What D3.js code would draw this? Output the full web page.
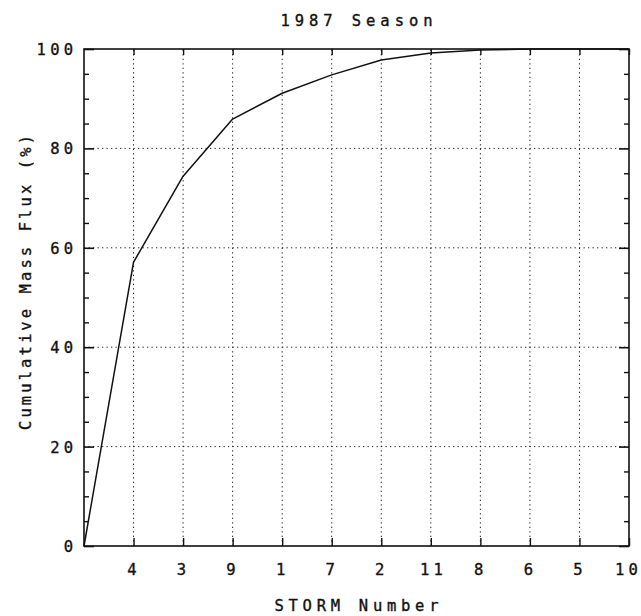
<!DOCTYPE html>
<html>
<head>
<meta charset="utf-8">
<script src="https://cdn.jsdelivr.net/npm/d3@7"></script>
<style>
  html, body { margin: 0; padding: 0; background: #fff; }
  svg { display: block; }
  text { font-family: "DejaVu Sans Mono", "Liberation Mono", monospace; fill: #111; stroke: #111; stroke-width: 0.35px; }
</style>
</head>
<body>
<svg id="chart" width="641" height="616"></svg>
<script>
// ---- data ----
const storms = ["", "4", "3", "9", "1", "7", "2", "11", "8", "6", "5", "10"];
const cumulative = [0, 57.1, 74.4, 85.9, 91.1, 94.8, 97.8, 99.2, 99.8, 100, 100, 100];
const yMajorTicks = [0, 20, 40, 60, 80, 100];
const yMinorTicks = [5, 10, 15, 25, 30, 35, 45, 50, 55, 65, 70, 75, 85, 90, 95];
const titleText = "1987 Season";
const xLabel = "STORM Number";
const yLabel = "Cumulative Mass Flux (%)";

// ---- layout ----
const L = 84, R = 629, T = 49, B = 546;
const svg = d3.select("#chart");
const x = d3.scaleLinear().domain([0, storms.length - 1]).range([L, R]);
const y = d3.scaleLinear().domain([0, 100]).range([B, T]);
const catIdx = d3.range(1, storms.length);
const fs = 15.5;
const ls = 4.2;

// gridlines (dotted)
const grid = svg.append("g").attr("stroke", "#222").attr("stroke-width", 1)
  .attr("stroke-dasharray", "1.3,3.2");
grid.selectAll("line.v").data(catIdx.slice(0, -1)).join("line")
  .attr("x1", d => x(d)).attr("x2", d => x(d)).attr("y1", B).attr("y2", T);
grid.selectAll("line.h").data(yMajorTicks.slice(1, -1)).join("line")
  .attr("class", "h")
  .attr("x1", L).attr("x2", R).attr("y1", d => y(d)).attr("y2", d => y(d));

// frame
svg.append("rect").attr("x", L).attr("y", T).attr("width", R - L).attr("height", B - T)
  .attr("fill", "none").attr("stroke", "#111").attr("stroke-width", 1.6);

// bottom axis (inward ticks)
const gx = svg.append("g").attr("transform", `translate(0,${B})`)
  .call(d3.axisBottom(x).tickValues(catIdx).tickSize(-8).tickFormat(i => storms[i]));
gx.select(".domain").remove();
gx.selectAll(".tick line").attr("stroke", "#111").attr("stroke-width", 1.4);
gx.selectAll(".tick text").attr("y", 29).attr("dy", 0)
  .attr("dx", i => storms[i].length > 1 ? (i === storms.length - 1 ? -1 : ls / 2) : 0)
  .attr("font-size", fs).style("letter-spacing", ls + "px");

// top axis (inward ticks, no labels)
const gxt = svg.append("g").attr("transform", `translate(0,${T})`)
  .call(d3.axisTop(x).tickValues(catIdx).tickSize(-6).tickFormat(""));
gxt.select(".domain").remove();
gxt.selectAll(".tick line").attr("stroke", "#111").attr("stroke-width", 1.4);

// left axis
const gy = svg.append("g").attr("transform", `translate(${L},0)`)
  .call(d3.axisLeft(y).tickValues(yMajorTicks).tickSize(-10).tickFormat(d3.format("d")));
gy.select(".domain").remove();
gy.selectAll(".tick line").attr("stroke", "#111").attr("stroke-width", 1.6);
gy.selectAll(".tick text").attr("x", -11 + ls).attr("dy", "0.36em")
  .attr("font-size", fs).style("letter-spacing", ls + "px");
const gym = svg.append("g").attr("transform", `translate(${L},0)`)
  .call(d3.axisLeft(y).tickValues(yMinorTicks).tickSize(-5).tickFormat(""));
gym.select(".domain").remove();
gym.selectAll(".tick line").attr("stroke", "#111").attr("stroke-width", 1.4);

// right axis
const gyr = svg.append("g").attr("transform", `translate(${R},0)`)
  .call(d3.axisRight(y).tickValues(yMajorTicks).tickSize(-10).tickFormat(""));
gyr.select(".domain").remove();
gyr.selectAll(".tick line").attr("stroke", "#111").attr("stroke-width", 1.6);
const gyrm = svg.append("g").attr("transform", `translate(${R},0)`)
  .call(d3.axisRight(y).tickValues(yMinorTicks).tickSize(-5).tickFormat(""));
gyrm.select(".domain").remove();
gyrm.selectAll(".tick line").attr("stroke", "#111").attr("stroke-width", 1.4);

// data line
const line = d3.line().x((d, i) => x(i)).y(d => y(d));
svg.append("path").datum(cumulative).attr("d", line)
  .attr("fill", "none").attr("stroke", "#111").attr("stroke-width", 1.5)
  .attr("stroke-linejoin", "round");

// title & labels
svg.append("text").attr("x", (L + R) / 2).attr("y", 26).attr("text-anchor", "middle")
  .attr("font-size", fs).attr("textLength", 152).attr("lengthAdjust", "spacing")
  .text(titleText);
svg.append("text").attr("x", (L + R) / 2).attr("y", 611).attr("text-anchor", "middle")
  .attr("font-size", fs).attr("textLength", 164).attr("lengthAdjust", "spacing")
  .text(xLabel);
svg.append("text").attr("transform", `translate(31,${(135 + 430) / 2}) rotate(-90)`)
  .attr("text-anchor", "middle")
  .attr("font-size", fs).attr("textLength", 295).attr("lengthAdjust", "spacing")
  .text(yLabel);
</script>
</body>
</html>
